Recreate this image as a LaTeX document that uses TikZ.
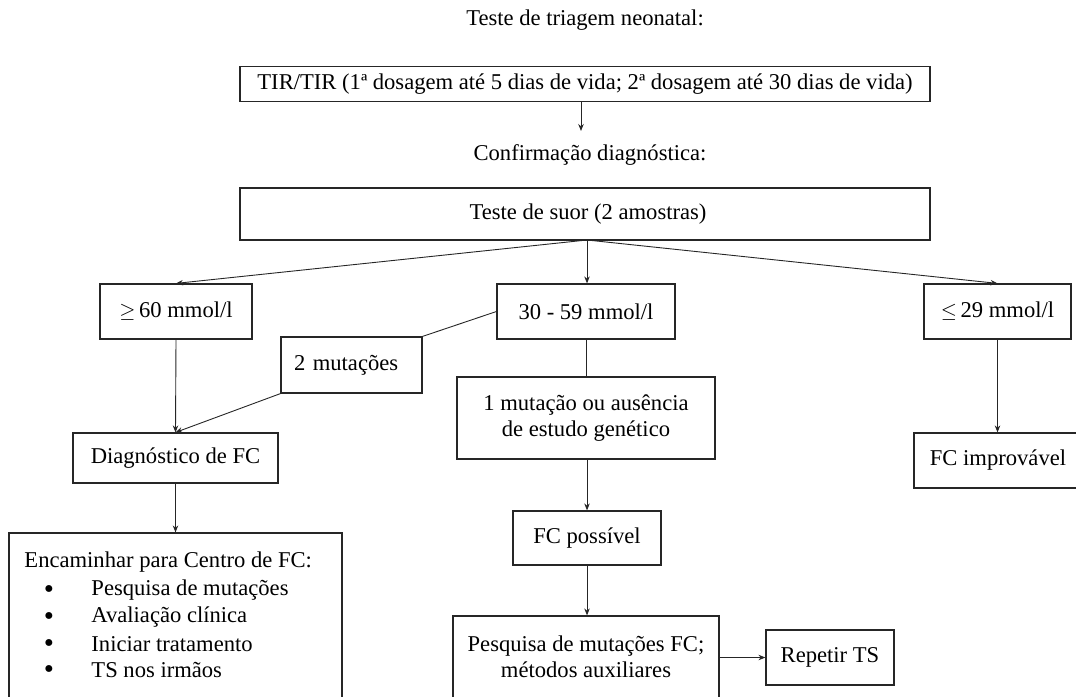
\documentclass[tikz,border=0pt]{standalone}
\usepackage{fontspec}
\setmainfont{Liberation Serif}
\usetikzlibrary{arrows.meta}
\begin{document}
\begin{tikzpicture}[x=1pt,y=-1pt,
  font=\fontsize{22.6}{26.5}\selectfont,
  line width=0.9pt,
  draw=black!85,
  box/.style={draw=black!85, line width=1.2pt, inner sep=0pt, align=center},
  lbl/.style={inner sep=0pt},
  arr/.style={-{Stealth[length=7pt,width=5.5pt]}}]
\useasboundingbox (0,0) rectangle (1076,696);
\clip (0,0) rectangle (1076,696);

% screening stage
\node[lbl] (t1) at (585,20) {Teste de triagem neonatal:};
\node[box, minimum width=690, minimum height=35] (tir) at (585,84)
  {TIR/TIR (1ª dosagem até 5 dias de vida; 2ª dosagem até 30 dias de vida)};
\coordinate (tirtop) at (581,101);
\coordinate (tirend) at (581,131);
\node[lbl] (t2) at (590,155) {Confirmação diagnóstica:};

% sweat test and its three outcomes
\node[box, minimum width=690, minimum height=52] (suor) at (585,214)
  {\hspace*{6pt}Teste de suor (2 amostras)};
\coordinate (s0) at (587,240);
\node[box, minimum width=152, minimum height=55] (ge) at (176,311.5) {$\geq$\,60 mmol/l};
\node[box, minimum width=178, minimum height=55] (mid) at (586,311.5) {30 - 59 mmol/l};
\node[box, minimum width=147, minimum height=55] (le) at (997.5,311.5) {$\leq$\,29 mmol/l};

% intermediate branches
\node[box, minimum width=141, minimum height=56, align=left, text width=141]
  (mut2) at (351.5,365) {\hspace*{13pt}2 mutações};
\node[box, minimum width=258, minimum height=82] (mut1) at (586,418)
  {1 mutação ou ausência\\de estudo genético};
\node[box, minimum width=205, minimum height=50] (diag) at (175.5,458) {Diagnóstico de FC};
\node[box, minimum width=168, minimum height=55] (improv) at (998,460.5) {FC improvável};
\node[box, minimum width=148, minimum height=54] (poss) at (587,538) {FC possível};

% referral box with bullet list
\node[box, minimum width=333, minimum height=175] (enc) at (175.5,620.5) {};
\node[lbl, anchor=west] (e0) at (24,562) {Encaminhar para Centro de FC:};
\foreach \i/\t/\y in {1/Pesquisa de mutações/590, 2/Avaliação clínica/617,
                      3/Iniciar tratamento/644, 4/TS nos irmãos/670} {
  \node[lbl] (b\i) at (49,\y) {\fontsize{16}{16}\selectfont ●};
  \node[lbl, anchor=west] (e\i) at (91,\y) {\t};
}

\node[box, minimum width=266, minimum height=82] (pesq) at (586,657)
  {Pesquisa de mutações FC;\\métodos auxiliares};
\node[box, minimum width=128, minimum height=55] (rep) at (830,657.5) {Repetir TS};

% connectors
\draw[arr] (tirtop) -- (tirend);
\draw[arr] (s0) -- (ge.north);
\draw[arr] (s0) -- (mid.north -| s0);
\draw[arr] (s0) -- (le.north);
\draw (mid.west) -- (mut2.north east);
\draw[arr] (mut2.south west) -- (diag.north);
\draw[arr] (ge.south) -- (diag.north);
\draw[arr] (diag.south) -- (enc.north);
\draw (mid.south) -- (mid.south |- mut1.north);
\draw[arr] (mut1.south -| poss.north) -- (poss.north);
\draw[arr] (poss.south) -- (pesq.north -| poss.south);
\draw[arr] (pesq.east |- rep.west) -- (rep.west);
\draw[arr] (le.south) -- (le.south |- improv.north);
\end{tikzpicture}
\end{document}
